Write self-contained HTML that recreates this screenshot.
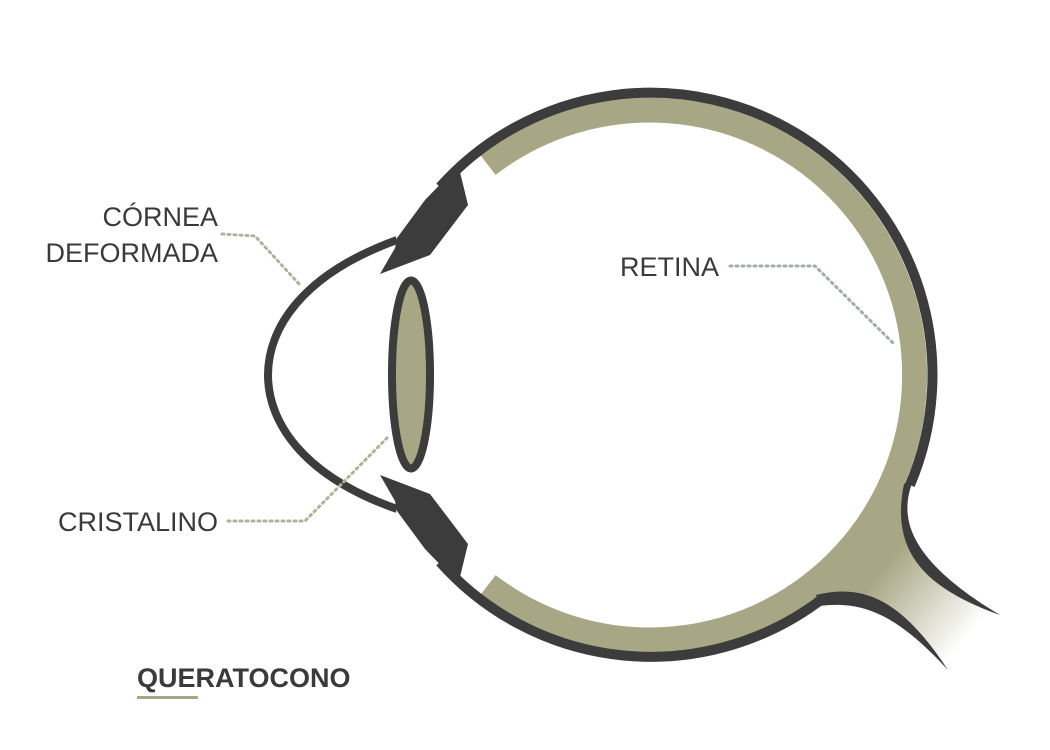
<!DOCTYPE html>
<html><head><meta charset="utf-8"><style>
html,body{margin:0;padding:0;background:#fff;}
svg{display:block;}
text{font-family:"Liberation Sans",sans-serif;fill:#3a3a3a;font-size:27px;}
</style></head><body>
<svg width="1050" height="750" viewBox="0 0 1050 750" xmlns="http://www.w3.org/2000/svg">
<defs>
<linearGradient id="ng" x1="860" y1="555" x2="965" y2="640" gradientUnits="userSpaceOnUse">
<stop offset="0" stop-color="#a8a785"/><stop offset="0.2" stop-color="#a8a785"/><stop offset="1" stop-color="#ffffff"/>
</linearGradient>
</defs>
<!-- optic nerve fill -->
<path d="M 896 485 L 908 482 C 900 520, 905 570, 1000 615 L 948 668 C 900 610, 870 590, 815 600 L 808 594 A 270 270 0 0 0 896 485 Z" fill="url(#ng)"/>
<!-- olive band -->
<path d="M 488 165 A 265 265 0 1 1 488 585" fill="none" stroke="#a8a785" stroke-width="25"/>
<!-- dark outer, broken at nerve -->
<path d="M 440 187 A 282 282 0 0 1 910 485" fill="none" stroke="#3c3c3c" stroke-width="10"/>
<path d="M 822 599 A 282 282 0 0 1 440 562" fill="none" stroke="#3c3c3c" stroke-width="10"/>
<!-- nerve outlines -->
<path d="M 914 478 C 900 512, 900 555, 1000 615 C 925 588, 890 552, 904 484 Z" fill="#3c3c3c"/>
<path d="M 816 595 C 868 582, 905 605, 948 670 C 900 618, 866 600, 820 606 Z" fill="#3c3c3c"/>
<!-- cornea -->
<path d="M 397 240 C 300 275, 268 330, 268 375 C 268 420, 300 475, 397 509" fill="none" stroke="#3c3c3c" stroke-width="8"/>
<!-- iris -->
<polygon points="456,168 460,172 468,205 430,255 380,274 395,248 397,238 425,200" fill="#3c3c3c"/>
<polygon points="456,581 460,577 468,544 430,494 380,475 395,501 397,511 425,549" fill="#3c3c3c"/>
<!-- lens -->
<ellipse cx="411" cy="374.5" rx="19" ry="94" fill="#a8a785" stroke="#3c3c3c" stroke-width="8"/>
<!-- leaders -->
<polyline points="222,234 255,236 300,285" fill="none" stroke="#b0b39a" stroke-width="3" stroke-dasharray="2 4" stroke-linecap="round"/>
<polyline points="730,266 815,266 893,343" fill="none" stroke="#9fb0ac" stroke-width="3" stroke-dasharray="2 4" stroke-linecap="round"/>
<polyline points="228,521 305,521 387,438" fill="none" stroke="#b0b39a" stroke-width="3" stroke-dasharray="2 4" stroke-linecap="round"/>
<!-- labels -->
<text x="218" y="226" text-anchor="end">CÓRNEA</text>
<text x="218" y="262" text-anchor="end">DEFORMADA</text>
<text x="620" y="276">RETINA</text>
<text x="218" y="531" text-anchor="end">CRISTALINO</text>
<text x="137" y="687" style="font-weight:bold;font-size:27px">QUERATOCONO</text>
<rect x="137" y="696" width="61" height="3" fill="#a8a785"/>
</svg>
</body></html>
